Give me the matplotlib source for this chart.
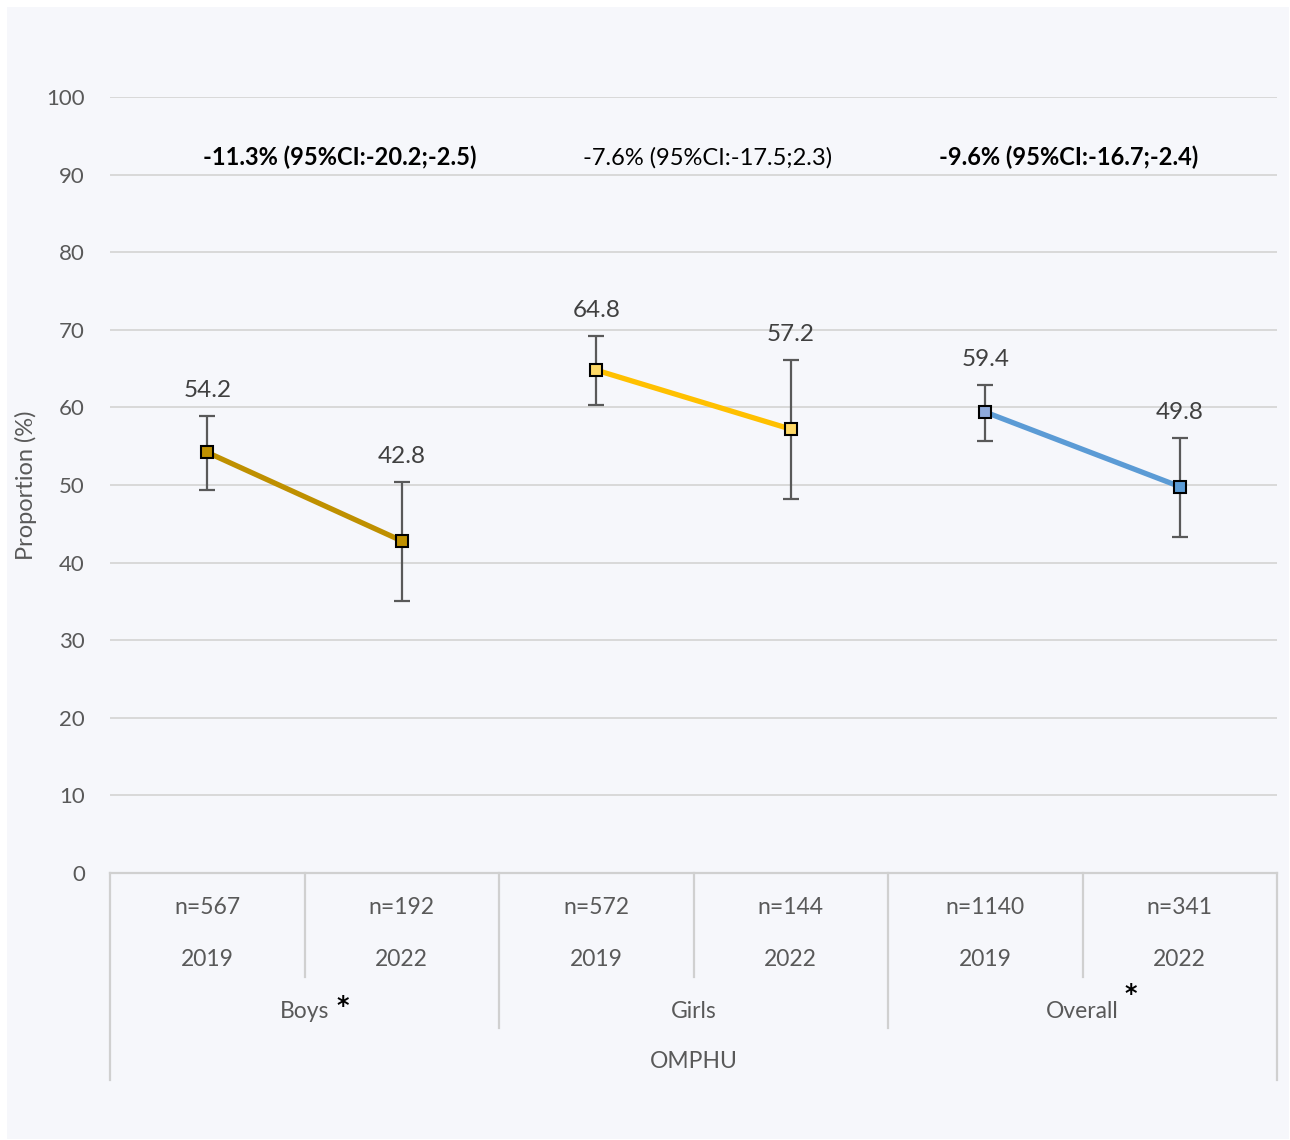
import matplotlib
matplotlib.use("Agg")
import matplotlib.pyplot as plt
from matplotlib.patches import Rectangle

plt.rcParams['font.family'] = ['Lato', 'DejaVu Sans']

# Data
groups = ["Boys", "Girls", "Overall"]
years = ["2019", "2022"]
sample_sizes = [["n=567", "n=192"], ["n=572", "n=144"], ["n=1140", "n=341"]]
proportions = [[54.2, 42.8], [64.8, 57.2], [59.4, 49.8]]
ci_lower = [[49.4, 35.1], [60.3, 48.2], [55.7, 43.3]]
ci_upper = [[58.9, 50.4], [69.2, 66.1], [62.9, 56.1]]
change_text = ["-11.3% (95%CI:-20.2;-2.5)", "-7.6% (95%CI:-17.5;2.3)", "-9.6% (95%CI:-16.7;-2.4)"]
significant = [True, False, True]
outer_label = "OMPHU"

line_colors = ["#BF9000", "#FFC000", "#5B9BD5"]
marker_colors = [["#BF9000", "#BF9000"], ["#FFD966", "#FFD966"], ["#8EA9DB", "#5B9BD5"]]

W, H = 1290, 1140
fig = plt.figure(figsize=(W / 100, H / 100), dpi=100, facecolor="white")
fig.patches.append(Rectangle((7 / W, 1 / H), (1289 - 7) / W, (1133 - 1) / H,
                             transform=fig.transFigure, facecolor="#F6F7FB",
                             edgecolor="none", zorder=-10))

left, right, top, bottom = 110, 1277, 97, 873
ax = fig.add_axes([left / W, 1 - bottom / H, (right - left) / W, (bottom - top) / H])
ax.set_facecolor("none")
ax.set_xlim(-0.5, 5.5)
ax.set_ylim(0, 100)
ax.set_yticks(range(0, 101, 10))
ax.grid(axis="y", color="#D9D9D9", lw=1.4)
ax.set_axisbelow(True)
for s in ax.spines.values():
    s.set_visible(False)
ax.tick_params(axis="y", length=0, pad=18, labelsize=16, labelcolor="#595959")
ax.set_xticks([])
ax.set_ylabel("Proportion (%)", fontsize=17, color="#595959", labelpad=7)

grey = "#595959"
for g in range(3):
    xs = [2 * g, 2 * g + 1]
    ax.plot(xs, proportions[g], color=line_colors[g], lw=3.8, zorder=3,
            solid_capstyle="butt")
    for k in range(2):
        x = xs[k]
        y = proportions[g][k]
        ax.errorbar([x], [y], yerr=[[y - ci_lower[g][k]], [ci_upper[g][k] - y]],
                    fmt="none", ecolor=grey, elinewidth=1.6, capsize=6,
                    capthick=1.6, zorder=2)
        ax.plot([x], [y], marker="s", ms=9, mfc=marker_colors[g][k],
                mec="black", mew=1.5, ls="none", zorder=4)
        ax.text(x, ci_upper[g][k] + 3.3, f"{y:.1f}", ha="center", va="center",
                fontsize=17.5, color="#404040")
    ax.text(2 * g + 0.5 + (0.18 if g == 0 else 0.07 if g == 1 else -0.07), 92.2,
            change_text[g], ha="center", va="center", fontsize=17,
            fontweight="bold" if significant[g] else "normal", color="black")

# Multi-level category axis
tr = ax.get_xaxis_transform()
axis_col = "#D0D0D0"
def yfrac(py):
    return (bottom - py) / (bottom - top)

ax.plot([-0.5, 5.5], [0, 0], transform=tr, color=axis_col, lw=1.6, clip_on=False)
for xb, yb in [(-0.5, 1080), (0.5, 977), (1.5, 1028), (2.5, 977), (3.5, 1028),
               (4.5, 977), (5.5, 1080)]:
    ax.plot([xb, xb], [0, yfrac(yb)], transform=tr, color=axis_col, lw=1.6,
            clip_on=False)

for g in range(3):
    for k in range(2):
        x = 2 * g + k
        ax.text(x, yfrac(908), sample_sizes[g][k], transform=tr, ha="center",
                va="center", fontsize=16.5, color=grey)
        ax.text(x, yfrac(959), years[k], transform=tr, ha="center", va="center",
                fontsize=16.5, color=grey)
    ax.text(2 * g + 0.5, yfrac(1011), groups[g], transform=tr, ha="center",
            va="center", fontsize=16.5, color=grey)

# significance markers beside the group names
ax.text(0.5 + 0.197, yfrac(1006), "*", transform=tr, ha="center", va="center",
        fontsize=17, fontweight="bold", color="black", family="DejaVu Sans")
ax.text(4.5 + 0.247, yfrac(994), "*", transform=tr, ha="center", va="center",
        fontsize=17, fontweight="bold", color="black", family="DejaVu Sans")
ax.text(2.5, yfrac(1061), outer_label, transform=tr, ha="center", va="center",
        fontsize=16.5, color=grey)

fig.savefig("out.png", dpi=100, facecolor="white")
